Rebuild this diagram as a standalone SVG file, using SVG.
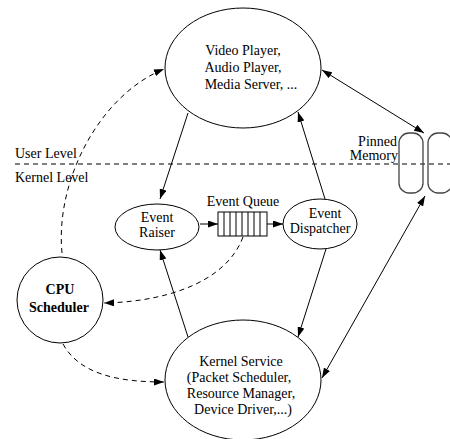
<svg xmlns="http://www.w3.org/2000/svg" width="450" height="439" viewBox="0 0 450 439">
<defs>
<marker id="ah" viewBox="0 0 10 7" refX="10" refY="3.5" markerWidth="10" markerHeight="7" markerUnits="userSpaceOnUse" orient="auto-start-reverse">
<path d="M0,0 L10,3.5 L0,7 z" fill="#000"/>
</marker>
<style>
.n{fill:#fff;stroke:#000;stroke-width:1}
.t{font-family:"Liberation Serif","Times New Roman",serif;font-size:14px;fill:#000;text-anchor:middle}
.b{font-weight:bold}
.l{text-anchor:start}
.r{text-anchor:end}
.c{fill:none;stroke:#000;stroke-width:1}
.d{stroke-dasharray:5,4}
.m{fill:#fff;stroke:#444;stroke-width:1.3}
</style>
</defs>
<rect width="450" height="439" fill="#fff"/>
<g id="levels">
<line x1="15" y1="164" x2="450" y2="164" class="c d"/>
<text x="15" y="158" class="t l">User Level</text>
<text x="15" y="182" class="t l">Kernel Level</text>
</g>
<g id="pinned-memory">
<rect x="399" y="133" width="24" height="60" rx="10" fill="none" stroke="#444" stroke-width="1.3"/>
<rect x="428" y="133" width="24" height="60" rx="10" fill="none" stroke="#444" stroke-width="1.3"/>
<text x="397" y="146" class="t r">Pinned</text>
<text x="398" y="160" class="t r">Memory</text>
</g>
<g id="apps">
<ellipse cx="243" cy="68" rx="78" ry="60" class="n"/>
<text x="243" y="55" class="t">Video Player,</text>
<text x="243" y="72" class="t">Audio Player,</text>
<text x="251" y="89" class="t">Media Server, ...</text>
</g>
<g id="event-raiser">
<ellipse cx="157" cy="227" rx="42" ry="23" class="n"/>
<text x="157" y="222" class="t">Event</text>
<text x="157" y="237" class="t">Raiser</text>
</g>
<g id="event-queue">
<rect x="218" y="212" width="49" height="24" class="n"/>
<path d="M224,212V236M230,212V236M236,212V236M242,212V236M248,212V236M254,212V236M260,212V236" class="c"/>
<text x="243" y="206" class="t">Event Queue</text>
</g>
<g id="event-dispatcher">
<ellipse cx="320" cy="224" rx="37" ry="25" class="n"/>
<text x="325" y="218" class="t">Event</text>
<text x="320" y="233" class="t">Dispatcher</text>
</g>
<g id="cpu-scheduler">
<circle cx="60" cy="300" r="43" class="n"/>
<text x="60" y="294" class="t b">CPU</text>
<text x="59" y="312" class="t b">Scheduler</text>
</g>
<g id="kernel-service">
<ellipse cx="243" cy="380" rx="78" ry="60" class="n"/>
<text x="241" y="366" class="t">Kernel Service</text>
<text x="239" y="382" class="t">(Packet Scheduler,</text>
<text x="241" y="398" class="t">Resource Manager,</text>
<text x="243" y="414" class="t">Device Driver,...)</text>
</g>
<g id="connectors">
<line x1="188" y1="113" x2="160" y2="199" class="c" marker-end="url(#ah)"/>
<line x1="325" y1="199" x2="298" y2="112" class="c" marker-end="url(#ah)"/>
<line x1="188" y1="337" x2="160" y2="250" class="c" marker-end="url(#ah)"/>
<line x1="326" y1="249" x2="298" y2="337" class="c" marker-end="url(#ah)"/>
<line x1="200" y1="224" x2="218" y2="224" class="c" marker-end="url(#ah)"/>
<line x1="267" y1="224" x2="283" y2="224" class="c" marker-end="url(#ah)"/>
<line x1="322" y1="70" x2="424" y2="133" class="c" marker-start="url(#ah)" marker-end="url(#ah)"/>
<line x1="322" y1="378" x2="425" y2="196" class="c" marker-start="url(#ah)" marker-end="url(#ah)"/>
<path d="M62,253 C55,180 100,95 164,69" class="c d" marker-end="url(#ah)"/>
<path d="M243,237 C225,285 160,302 104,303" class="c d" marker-end="url(#ah)"/>
<path d="M63,344 C80,375 120,382 164,382" class="c d" marker-end="url(#ah)"/>
</g>
</svg>
